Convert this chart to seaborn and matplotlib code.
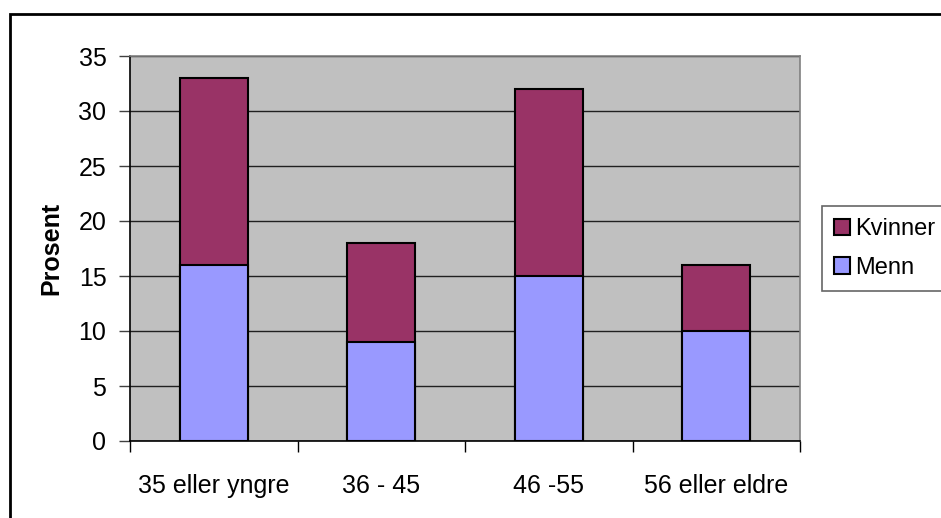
import numpy as np
import pandas as pd
import seaborn as sns
import matplotlib.pyplot as plt
from matplotlib.patches import Rectangle, Patch

categories = ['35 eller yngre', '36 - 45', '46 -55', '56 eller eldre']
menn = [16, 9, 15, 10]
kvinner = [17, 9, 17, 6]

df = pd.DataFrame({'alder': categories, 'Menn': menn, 'Kvinner': kvinner})
df['Total'] = df['Menn'] + df['Kvinner']

sns.set_theme(style="white")
plt.rcParams['font.family'] = ['Liberation Sans', 'DejaVu Sans']
plt.rcParams['text.color'] = 'black'
plt.rcParams['axes.labelcolor'] = 'black'
plt.rcParams['xtick.color'] = 'black'
plt.rcParams['ytick.color'] = 'black'

fig = plt.figure(figsize=(9.41, 5.18), dpi=100)
ax = fig.add_axes([130/941, 77/518, 670/941, 385/518])
ax.set_facecolor('#C0C0C0')
ax.set_axisbelow(True)

bw = 0.405
sns.barplot(data=df, x='alder', y='Total', color='#993366', width=bw,
            edgecolor='black', linewidth=1.5, saturation=1, ax=ax)
sns.barplot(data=df, x='alder', y='Menn', color='#9999FF', width=bw,
            edgecolor='black', linewidth=1.5, saturation=1, ax=ax)

ax.set_ylim(0, 35)
ax.set_xlim(-0.5, 3.5)
ax.set_yticks(range(0, 36, 5))
ax.yaxis.grid(True, color='#202020', linewidth=1)
ax.tick_params(axis='y', labelsize=18, length=8, width=1, color='#404040', pad=9, left=True)
ax.tick_params(axis='x', which='major', labelsize=18, length=0, pad=24)
ax.set_xticks(np.arange(-0.5, 4, 1), minor=True)
ax.tick_params(axis='x', which='minor', length=8, width=1, color='black', bottom=True)

ax.set_xlabel('')
ax.set_ylabel('Prosent', fontsize=18, fontweight='bold')
ax.yaxis.set_label_coords(-0.1, 0.5)

for side in ['top', 'right']:
    ax.spines[side].set_color('#808080')
    ax.spines[side].set_linewidth(1.2)
for side in ['left', 'bottom']:
    ax.spines[side].set_color('black')
    ax.spines[side].set_linewidth(1.2)

handles = [Patch(facecolor='#993366', edgecolor='black', linewidth=1.5, label='Kvinner'),
           Patch(facecolor='#9999FF', edgecolor='black', linewidth=1.5, label='Menn')]
leg = fig.legend(handles=handles, loc='center left', bbox_to_anchor=(822/941, 1 - 248.5/518),
                 fontsize=17, frameon=True, fancybox=False, edgecolor='#404040',
                 handlelength=0.7, handleheight=0.7, handletextpad=0.2,
                 labelspacing=0.7, borderpad=0.5, borderaxespad=0)
leg.get_frame().set_linewidth(1.2)

fig.patches.append(Rectangle((10/941, -0.05), 1.0, 1 - 14/518 + 0.05, transform=fig.transFigure,
                             fill=False, edgecolor='black', linewidth=2, zorder=-1))

fig.savefig('out.png', dpi=100)
